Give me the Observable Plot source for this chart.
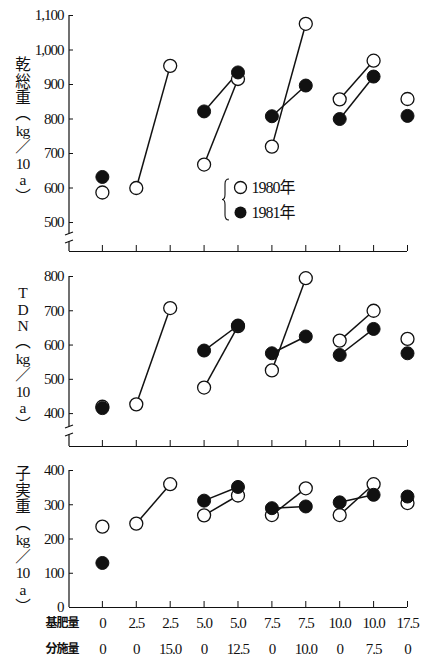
<!DOCTYPE html>
<html><head><meta charset="utf-8">
<script src="https://cdn.jsdelivr.net/npm/d3@7"></script>
<script src="https://cdn.jsdelivr.net/npm/@observablehq/plot@0.6"></script>
<style>
html,body{margin:0;padding:0;background:#fff;}
#chart{width:428px;}
#chart svg{display:block;}
</style></head><body><div id="chart"></div>
<script>
// ---- data ----
const groups = [0, 1, 2, 3, 4, 5, 6, 7, 8, 9];
const baseFert  = ["0", "2.5", "2.5", "5.0", "5.0", "7.5", "7.5", "10.0", "10.0", "17.5"];
const splitFert = ["0", "0", "15.0", "0", "12.5", "0", "10.0", "0", "7.5", "0"];
const rowLabels = ["基肥量", "分施量"];

const dry1980   = [587, 600, 954, 668, 916, 720, 1076, 857, 969, 858];
const dry1981   = [632, null, null, 822, 935, 808, 897, 800, 923, 809];
const tdn1980   = [420, 427, 708, 476, 655, 526, 795, 613, 700, 618];
const tdn1981   = [416, null, null, 584, 657, 576, 625, 571, 647, 576];
const grain1980 = [236, 245, 360, 269, 327, 270, 348, 270, 360, 305];
const grain1981 = [130, null, null, 312, 352, 290, 295, 307, 329, 324];
const pairs = [[1, 2], [3, 4], [5, 6], [7, 8]];

const dryTicks = [500, 600, 700, 800, 900, 1000, 1100];
const tdnTicks = [400, 500, 600, 700, 800];
const grainTicks = [0, 100, 200, 300, 400];

const dryTitle = ["乾", "総", "重", "︵", "kg", "／", "10", "a", "︶"];
const tdnTitle = ["T", "D", "N", "︵", "kg", "／", "10", "a", "︶"];
const grainTitle = ["子", "実", "重", "︵", "kg", "／", "10", "a", "︶"];
const legendLabels = ["1980年", "1981年"];

// ---- helpers ----
const SERIF = "'Liberation Serif', 'Times New Roman', 'Noto Sans CJK JP', serif";
const INK = "#111";
const XMIN = -0.97, XMAX = 9;

function rows(vals) { return groups.filter(i => vals[i] != null).map(i => ({i, v: vals[i]})); }
function segs(vals) {
  return pairs.filter(([a, b]) => vals[a] != null && vals[b] != null)
    .map(([a, b]) => ({a, b, va: vals[a], vb: vals[b]}));
}

function yAxisLine(topValue, breakAbove) {
  return (index, scales, values, dims) => {
    const x = dims.marginLeft;
    const yB = dims.height - dims.marginBottom;
    const yT = scales.y(topValue);
    const g = d3.create("svg:g").attr("stroke", INK).attr("fill", "none").attr("stroke-width", 1.2);
    if (breakAbove == null) {
      g.append("line").attr("x1", x).attr("x2", x).attr("y1", yT).attr("y2", yB);
    } else {
      const mid = (scales.y(breakAbove) + yB) / 2 + 1;
      const g1 = mid - 4, g2 = mid + 4;
      g.append("line").attr("x1", x).attr("x2", x).attr("y1", yT).attr("y2", g1);
      g.append("line").attr("x1", x - 4).attr("x2", x + 4).attr("y1", g1 + 1.5).attr("y2", g1 - 1.5);
      g.append("line").attr("x1", x).attr("x2", x).attr("y1", g2).attr("y2", yB);
      g.append("line").attr("x1", x - 4).attr("x2", x + 4).attr("y1", g2 + 1.5).attr("y2", g2 - 1.5);
    }
    return g.node();
  };
}

function brace(dims) {
  const g = d3.create("svg:g");
  const x = dims.marginLeft + 160, y0 = dims.marginTop + 164, y1 = dims.marginTop + 205;
  const m = (y0 + y1) / 2;
  g.append("path")
    .attr("d", `M${x},${y0} Q${x - 4},${y0} ${x - 4},${y0 + 5} L${x - 4},${m - 5} Q${x - 4},${m} ${x - 7},${m} Q${x - 4},${m} ${x - 4},${m + 5} L${x - 4},${y1 - 5} Q${x - 4},${y1} ${x},${y1}`)
    .attr("fill", "none").attr("stroke", INK).attr("stroke-width", 1.1);
  return g.node();
}

function panel(o) {
  const marks = [
    Plot.ruleY([o.domain[0]], {stroke: INK, strokeWidth: 1.2}),
    yAxisLine(o.ticks[o.ticks.length - 1], o.brk),
    Plot.axisY(o.ticks, {tickSize: -4, tickPadding: 10, tickFormat: d3.format(","), label: null, fontSize: 15, stroke: INK}),
    Plot.axisX(groups, {tickSize: -6, tickFormat: () => "", label: null, stroke: INK}),
    Plot.link(segs(o.v1980), {x1: "a", y1: "va", x2: "b", y2: "vb", stroke: INK, strokeWidth: 1.5}),
    Plot.link(segs(o.v1981), {x1: "a", y1: "va", x2: "b", y2: "vb", stroke: INK, strokeWidth: 1.5}),
    Plot.dot(rows(o.v1980), {x: "i", y: "v", r: 6.5, fill: "white", stroke: INK, strokeWidth: 1.3}),
    Plot.dot(rows(o.v1981), {x: "i", y: "v", r: 6.5, fill: INK, stroke: INK, strokeWidth: 1}),
    Plot.text([o.title.join("\n")], {text: d => d, frameAnchor: "top-left", dx: -47, dy: o.titleDy,
      lineAnchor: "top", textAnchor: "middle", fontSize: 15.5, lineHeight: o.lh, fill: INK})
  ];
  if (o.legend) {
    marks.push(
      (index, scales, values, dims) => brace(dims),
      Plot.dot([0], {frameAnchor: "top-left", dx: 171, dy: 172, r: 6, fill: "white", stroke: INK, strokeWidth: 1.3}),
      Plot.dot([0], {frameAnchor: "top-left", dx: 171, dy: 197, r: 6, fill: INK}),
      Plot.text([legendLabels[0]], {text: d => d, frameAnchor: "top-left", dx: 182, dy: 172, textAnchor: "start", lineAnchor: "middle", fontSize: 16, fill: INK}),
      Plot.text([legendLabels[1]], {text: d => d, frameAnchor: "top-left", dx: 182, dy: 197, textAnchor: "start", lineAnchor: "middle", fontSize: 16, fill: INK})
    );
  }
  if (o.xLabels) {
    marks.push(
      Plot.text(groups, {x: d => d, text: d => baseFert[d], frameAnchor: "bottom", dy: 16, lineAnchor: "middle", fontSize: 15, fill: INK}),
      Plot.text(groups, {x: d => d, text: d => splitFert[d], frameAnchor: "bottom", dy: 42, lineAnchor: "middle", fontSize: 15, fill: INK}),
      Plot.text([rowLabels[0]], {text: d => d, frameAnchor: "bottom-left", dx: 9, dy: 16, textAnchor: "end", lineAnchor: "middle", fontSize: 12, fontWeight: "bold", fill: INK}),
      Plot.text([rowLabels[1]], {text: d => d, frameAnchor: "bottom-left", dx: 9, dy: 42, textAnchor: "end", lineAnchor: "middle", fontSize: 12, fontWeight: "bold", fill: INK})
    );
  }
  return Plot.plot({
    width: 428, height: o.height,
    marginTop: o.mt, marginBottom: o.mb, marginLeft: 69, marginRight: 21,
    x: {type: "linear", domain: [XMIN, XMAX]},
    y: {type: "linear", domain: o.domain},
    style: {fontFamily: SERIF, fontSize: "15px", letterSpacing: "-1px", background: "white", color: INK, overflow: "visible"},
    marks
  });
}

const chart = document.getElementById("chart");
chart.append(panel({v1980: dry1980, v1981: dry1981, domain: [416, 1100], ticks: dryTicks, brk: 500,
  height: 262, mt: 15, mb: 11, title: dryTitle, titleDy: 43, lh: 1.06, legend: true}));
chart.append(panel({v1980: tdn1980, v1981: tdn1981, domain: [304, 800], ticks: tdnTicks, brk: 400,
  height: 196, mt: 14, mb: 12, title: tdnTitle, titleDy: 10, lh: 1.06, legend: false}));
chart.append(panel({v1980: grain1980, v1981: grain1981, domain: [0, 400], ticks: grainTicks, brk: null,
  height: 199, mt: 12, mb: 50, title: grainTitle, titleDy: -3.3, lh: 1.07, xLabels: true}));
</script></body></html>
